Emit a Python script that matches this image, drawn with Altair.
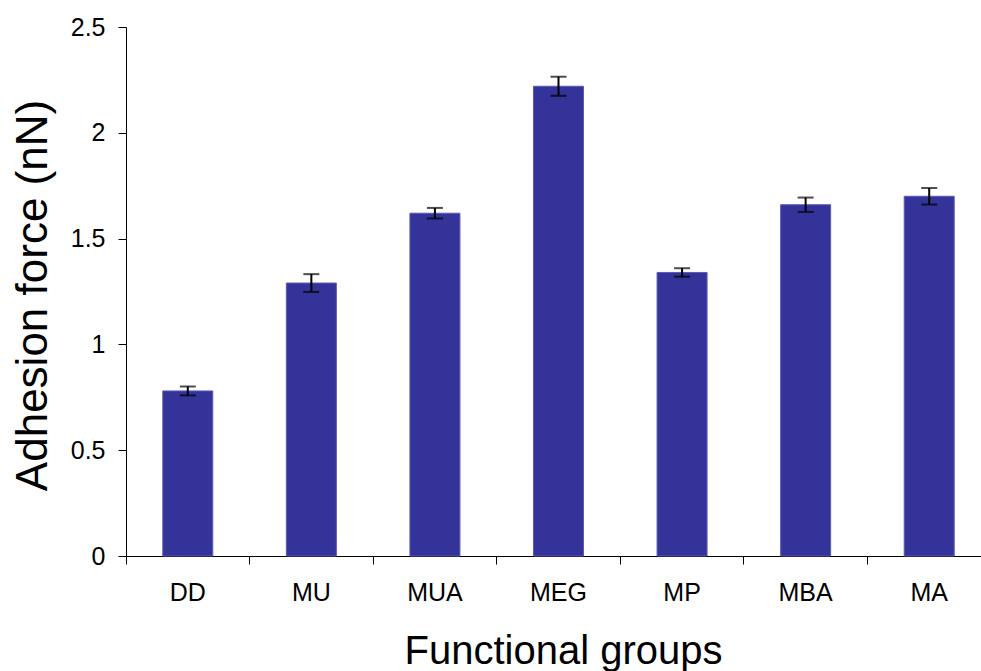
import altair as alt
import pandas as pd

groups = ["DD", "MU", "MUA", "MEG", "MP", "MBA", "MA"]
force = [0.78, 1.29, 1.62, 2.22, 1.34, 1.66, 1.70]
err = [0.021, 0.042, 0.025, 0.045, 0.02, 0.034, 0.039]

df = pd.DataFrame({"group": groups, "force": force, "err": err})
df["low"] = df["force"] - df["err"]
df["high"] = df["force"] + df["err"]

FONT = "Liberation Sans"

xscale = alt.Scale(domain=groups, range=[0, 865], paddingInner=0, paddingOuter=0)
yscale = alt.Scale(domain=[0, 2.5], nice=False, zero=True)

xaxis = alt.Axis(title="Functional groups", bandPosition=0, tickSize=8,
                 labelPadding=36, labelBaseline="alphabetic", labelAngle=0,
                 labelFontSize=25, labelFont=FONT, labelColor="black",
                 domainColor="black", tickColor="black", domainWidth=1, tickWidth=1,
                 titleFont=FONT, titleFontSize=40, titleFontWeight="normal",
                 titleColor="black", titleX=437, titleY=107,
                 titleBaseline="alphabetic", titleAlign="center", grid=False)
yaxis = alt.Axis(title="Adhesion force (nN)", values=[0, 0.5, 1, 1.5, 2, 2.5],
                 labelExpr="format(datum.value, '~g')", tickSize=8, labelPadding=13,
                 labelFontSize=25, labelFont=FONT, labelColor="black",
                 domainColor="black", tickColor="black", domainWidth=1, tickWidth=1,
                 titleFont=FONT, titleFontSize=44, titleFontWeight="normal",
                 titleColor="black", titleX=-80, titleY=268, titleAngle=-90,
                 titleBaseline="alphabetic", titleAlign="center", grid=False)

base = alt.Chart(df)

bars = base.mark_bar(size=50, color="#333399", stroke="#5a5ab4", strokeWidth=1).encode(
    x=alt.X("group:N", sort=groups, scale=xscale, axis=xaxis),
    y=alt.Y("force:Q", scale=yscale, axis=yaxis),
)

rules = base.mark_rule(color="black", strokeWidth=2).encode(
    x=alt.X("group:N", sort=groups, scale=xscale, axis=xaxis),
    y=alt.Y("low:Q", scale=yscale, axis=yaxis),
    y2="high:Q",
)

caps_hi = base.mark_tick(color="black", thickness=2, size=16).encode(
    x=alt.X("group:N", sort=groups, scale=xscale, axis=xaxis),
    y=alt.Y("high:Q", scale=yscale, axis=yaxis),
)
caps_lo = base.mark_tick(color="black", thickness=2, size=16).encode(
    x=alt.X("group:N", sort=groups, scale=xscale, axis=xaxis),
    y=alt.Y("low:Q", scale=yscale, axis=yaxis),
)

chart = alt.layer(bars, rules, caps_hi, caps_lo).properties(
    width=855, height=529,
    padding={"left": 126, "top": 27, "right": 0, "bottom": 115},
    autosize=alt.AutoSizeParams(type="none"),
    background="white",
).configure_view(stroke=None)

chart.save("out.html", embed_options={"renderer": "svg", "actions": False})
